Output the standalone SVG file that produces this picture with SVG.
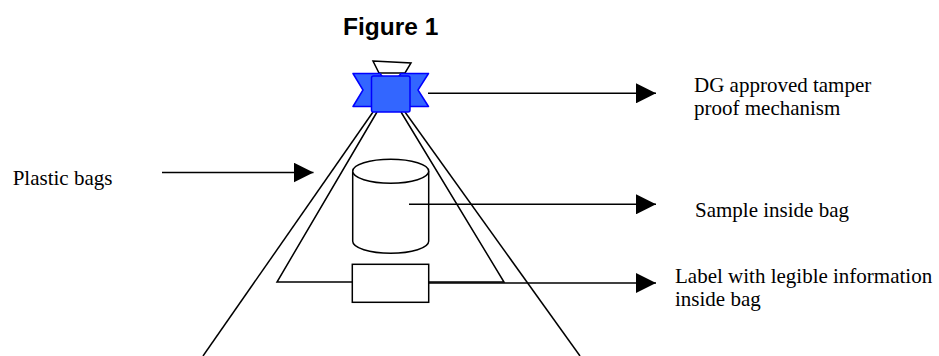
<svg xmlns="http://www.w3.org/2000/svg" width="939" height="356" viewBox="0 0 939 356">
  <style>
    .ln { stroke: #000; stroke-width: 1.5; fill: none; }
    .shape { stroke: #000; stroke-width: 1.5; fill: #fff; }
    .seal { fill: #3366ff; stroke: #0000ff; stroke-width: 1.5; stroke-linejoin: round; }
    .lbl { font-family: "Liberation Serif", "Times New Roman", serif; font-size: 21px; fill: #000; }
    .title { font-family: "Liberation Sans", Arial, sans-serif; font-size: 24.5px; font-weight: bold; fill: #000; }
  </style>
  <defs>
    <marker id="arrow" markerUnits="userSpaceOnUse" markerWidth="20" markerHeight="20" refX="20" refY="10" orient="auto">
      <path d="M0,0 L20,10 L0,20 z" fill="#000"/>
    </marker>
  </defs>

  <rect width="939" height="356" fill="#fff"/>

  <text class="title" x="343" y="35">Figure 1</text>

  <!-- plastic bag outlines -->
  <g id="bag">
    <line class="ln" x1="373" y1="112" x2="203" y2="356"/>
    <line class="ln" x1="405" y1="112" x2="580" y2="356"/>
    <polyline class="ln" points="377,112 277,282 504,282 401,112"/>
  </g>

  <!-- tamper proof seal -->
  <g id="seal">
    <polygon class="shape" points="373,61 411,63 405,73 379,73"/>
    <polygon class="seal" points="353,73.5 380,73.5 382,76 382,106.5 353,106.5 363,90"/>
    <polygon class="seal" points="428.5,73.5 401,73.5 399,76 399,106.5 428.5,106.5 418,90"/>
    <rect class="seal" x="371.5" y="76" width="38.5" height="36" rx="2"/>
  </g>

  <!-- sample container -->
  <g id="sample">
    <path class="shape" d="M352.7,171.3 L352.7,241.3 A38,12 0 0 0 428.7,241.3 L428.7,171.3"/>
    <ellipse class="shape" cx="390.7" cy="171.3" rx="38" ry="12"/>
  </g>

  <!-- label -->
  <g id="label">
    <rect class="shape" x="352.3" y="264.3" width="76.4" height="38"/>
  </g>

  <!-- connectors -->
  <g id="connectors">
    <line class="ln" x1="162" y1="172.5" x2="313.5" y2="172.5" marker-end="url(#arrow)"/>
    <line class="ln" x1="428" y1="93.3" x2="656" y2="93.3" marker-end="url(#arrow)"/>
    <line class="ln" x1="409" y1="204.3" x2="656" y2="204.3" marker-end="url(#arrow)"/>
    <line class="ln" x1="429" y1="283" x2="656" y2="283" marker-end="url(#arrow)"/>
  </g>

  <!-- captions -->
  <g id="captions">
    <text class="lbl" x="12.7" y="185">Plastic bags</text>
    <text class="lbl" x="694" y="91.7">DG approved tamper</text>
    <text class="lbl" x="694" y="115">proof mechanism</text>
    <text class="lbl" x="695" y="216.7">Sample inside bag</text>
    <text class="lbl" x="675" y="283">Label with legible information</text>
    <text class="lbl" x="675" y="306">inside bag</text>
  </g>
</svg>
